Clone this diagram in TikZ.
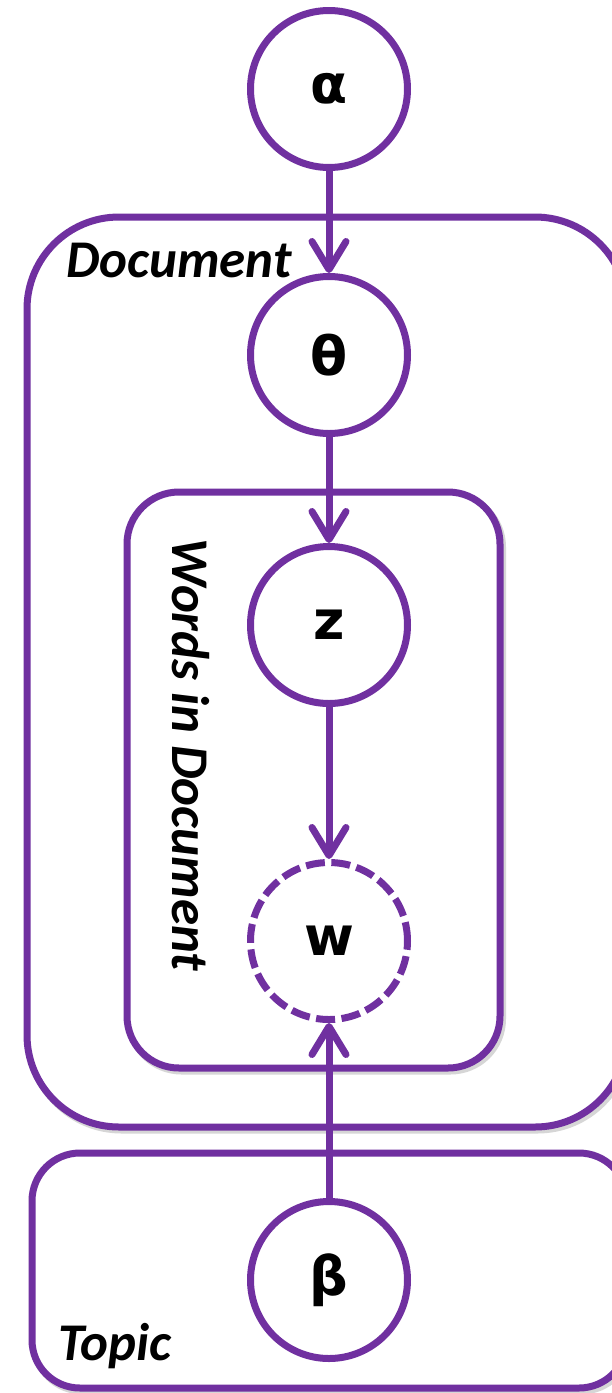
\documentclass[tikz,border=0pt]{standalone}
\usepackage{fontspec}
\usetikzlibrary{arrows.meta}
\newfontfamily\labelfont{Carlito}
\newfontfamily\varfont{DejaVu Sans}
\definecolor{plum}{HTML}{7030A0}

\tikzset{
  rv/.style={circle, draw=plum, line width=7pt, fill=white, minimum size=157pt,
             inner sep=0pt, font=\varfont\bfseries\fontsize{54}{54}\selectfont},
  hidden/.style={rv, dash pattern=on 19pt off 6.5pt},
  plate/.style={draw=plum, line width=7pt, fill=white},
  shade/.style={draw=black!16, line width=7pt, fill=none},
  platelabel/.style={font=\labelfont\bfseries\itshape\fontsize{53}{53}\selectfont, inner sep=0pt},
  edge/.style={draw=plum, line width=7pt,
               -{Straight Barb[length=28pt, width=34pt, line cap=round, line join=round]}}
}

\begin{document}
\begin{tikzpicture}[x=1pt, y=-1pt]
  \useasboundingbox (0,0) rectangle (612,1393);
  \fill[white] (0,0) rectangle (612,1393);
  \clip (0,0) rectangle (612,1393);

  % soft shadows under the plates
  \draw[shade, rounded corners=92pt] (29.5,220) rectangle (629.5,1130);
  \draw[shade, rounded corners=48pt] (34.5,1156) rectangle (629.5,1391);

  % document plate
  \draw[plate, rounded corners=92pt] (27,217) rectangle (627,1127);
  % words plate
  \draw[shade, rounded corners=52pt] (129.5,495) rectangle (502.5,1071);
  \draw[plate, rounded corners=52pt] (127,492) rectangle (500,1068);
  % topic plate
  \draw[plate, rounded corners=48pt] (32,1153) rectangle (627,1388);

  % plate labels
  \node[platelabel, anchor=base west] (doclabel) at (66,277) {Document};
  \node[platelabel, anchor=base west] (topiclabel) at (58,1360) {Topic};
  \node[platelabel, anchor=base, rotate=-90] (wordslabel) at (172,755) {Words in Document};

  % random variables
  \node[rv] (alpha) at (329,89) {α};
  \node[rv] (theta) at (329,355) {θ};
  \node[rv] (z) at (329,625) {z};
  \node[hidden] (w) at (329,941) {w};
  \node[rv] (beta) at (329,1280) {β};

  % dependencies
  \draw[edge] (alpha.south) -- (theta.north);
  \draw[edge] (theta.south) -- (z.north);
  \draw[edge] (z.south) -- (w.north);
  \draw[edge] (beta.north) -- (w.south);
\end{tikzpicture}
\end{document}
